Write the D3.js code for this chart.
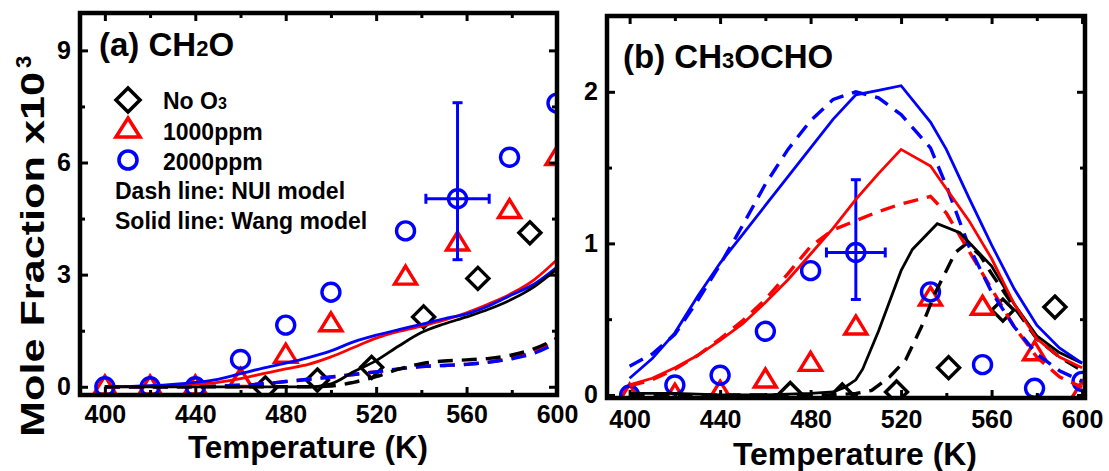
<!DOCTYPE html>
<html><head><meta charset="utf-8">
<script src="https://cdn.jsdelivr.net/npm/d3@7"></script>
<style>
body{margin:0;background:#fff;}
svg text{font-family:"Liberation Sans",Arial,Helvetica,sans-serif;font-weight:bold;fill:#000;}
</style></head><body><svg id="c" width="1109" height="471"></svg>
<script>
// ---------- Panel (a) CH2O : experiment ----------
const expT = [400,420,440,460,480,500,533,556,579,600];
const noO3T = [471,494,518,541,565,588];
const a_blue = [0,0,0,0.73,1.65,2.53,4.17,5.03,6.14,7.59];
const a_red  = [0,0,0,0.2,0.85,1.69,2.94,3.85,4.72,6.14];
const a_black = [-0.03,0.18,0.52,1.87,2.9,4.12];
const a_err = {T:556, v:5.03, lo:3.4, hi:7.6, tLo:542, tHi:570};
// ---------- Panel (a) models ----------
const a_modelT = [400,420,440,450,460,470,480,490,500,510,520,530,540,550,560,570,580,590,600];
const a_wangBlue  = [0,0.03,0.12,0.2,0.35,0.5,0.63,0.78,0.96,1.2,1.38,1.53,1.67,1.82,1.95,2.17,2.46,2.75,3.2];
const a_wangRed   = [0,0.02,0.07,0.12,0.22,0.35,0.48,0.6,0.8,1.05,1.3,1.48,1.62,1.78,1.98,2.22,2.5,2.87,3.4];
const a_wangBlack = [0,0,0,0,0,0,0,0,0.08,0.4,0.7,1.09,1.45,1.68,1.87,2.08,2.34,2.68,3.15];
const a_nuiBlue   = [0,0,0.01,0.02,0.04,0.08,0.14,0.2,0.26,0.33,0.4,0.48,0.54,0.57,0.6,0.66,0.75,0.9,1.18];
const a_nuiRed    = [0,0,0.01,0.02,0.04,0.08,0.14,0.2,0.26,0.33,0.4,0.48,0.54,0.57,0.6,0.66,0.77,0.95,1.3];
const a_nuiBlack  = [0,0,0,0,0,0,0,0,0.02,0.12,0.27,0.47,0.62,0.69,0.72,0.76,0.85,1.02,1.3];

// ---------- Panel (b) CH3OCHO : experiment ----------
const b_blue = [0,0.066,0.13,0.42,0.82,0.94,0.68,0.2,0.044,0.09];
const b_red  = [0,0,0.02,0.1,0.21,0.45,0.64,0.58,0.28,0.02];
const b_black = [0.01,0.0,0.02,0.18,0.56,0.58];
const b_err = {T:500, v:0.94, lo:0.63, hi:1.42, tLo:487, tHi:513};
// ---------- Panel (b) models ----------
const b_modelT = [400,410,420,430,440,450,460,470,480,490,500,510,520,533,540,550,560,570,580,590,600];
const b_wangBlue = [0.11,0.24,0.41,0.65,0.87,1.06,1.25,1.44,1.63,1.82,1.98,2.01,2.04,1.8,1.62,1.3,0.99,0.7,0.46,0.31,0.21];
const b_nuiBlue  = [0.19,0.27,0.4,0.62,0.86,1.12,1.39,1.62,1.81,1.95,2.0,1.96,1.85,1.63,1.38,0.98,0.68,0.45,0.27,0.16,0.09];
const b_wangRed  = [0.066,0.11,0.18,0.26,0.36,0.47,0.61,0.76,0.93,1.1,1.29,1.46,1.62,1.51,1.36,1.15,0.9,0.6,0.37,0.25,0.18];
const b_nuiRed   = [0.06,0.1,0.17,0.26,0.37,0.49,0.63,0.8,0.98,1.09,1.15,1.21,1.26,1.31,1.2,0.95,0.7,0.45,0.25,0.12,0.05];
const b_wangBlackT = [400,420,440,460,480,490,495,500,503,510,520,525,536,546,560,570,580,590,600];
const b_wangBlack  = [0.01,0.01,0.0,0.0,0.01,0.02,0.05,0.1,0.17,0.42,0.82,0.96,1.13,1.07,0.85,0.6,0.39,0.28,0.21];
const b_nuiBlackT = [400,490,500,507,515,522,529,535,544,549,555,560,570,580,590,600];
const b_nuiBlack  = [0,0,0.01,0.03,0.12,0.23,0.45,0.67,0.94,1.0,0.92,0.8,0.58,0.37,0.25,0.16];

// ---------- ticks ----------
const xMajor = [400,440,480,520,560,600];
const xMinor = [420,460,500,540,580];
const a_yMajor = [0,3,6,9], a_yMinor = [1.5,4.5,7.5];
const b_yMajor = [0,1,2], b_yMinor = [0.5,1.5];

const BLUE="#0000ff", RED="#ff0000", BLACK="#000000";
const svg = d3.select("#c");
svg.append("rect").attr("width",1109).attr("height",471).attr("fill","#fff");

function zip(T,V){return T.map((t,i)=>[t,V[i]]);}

function panel(cfg){
  const x = d3.scaleLinear().domain(cfg.xDomain).range(cfg.xRange);
  const y = d3.scaleLinear().domain(cfg.yDomain).range(cfg.yRange);
  const [x0,x1]=cfg.xRange, [y0,y1]=[cfg.yRange[1],cfg.yRange[0]];
  const g = svg.append("g");
  g.append("clipPath").attr("id","clip"+cfg.id).append("rect")
    .attr("x",x0).attr("y",y0).attr("width",x1-x0).attr("height",y1-y0);
  const plot = g.append("g").attr("clip-path",`url(#clip${cfg.id})`);

  const diamond = s=>`M0,${-s}L${s},0L0,${s}L${-s},0Z`;
  const tri = (w,h)=>`M0,${-h*0.6}L${w/2},${h*0.4}L${-w/2},${h*0.4}Z`;
  const sw=3.4;
  plot.selectAll(".d").data(zip(noO3T,cfg.black)).join("path")
    .attr("d",diamond(11)).attr("transform",d=>`translate(${x(d[0])},${y(d[1])})`)
    .attr("fill","none").attr("stroke",BLACK).attr("stroke-width",sw);
  plot.selectAll(".t").data(zip(expT,cfg.red)).join("path")
    .attr("d",tri(22,18)).attr("transform",d=>`translate(${x(d[0])},${y(d[1])})`)
    .attr("fill","none").attr("stroke",RED).attr("stroke-width",sw);
  const e=cfg.err, eg=plot.append("g").attr("stroke",BLUE).attr("stroke-width",3);
  eg.append("line").attr("x1",x(e.T)).attr("x2",x(e.T)).attr("y1",y(e.lo)).attr("y2",y(e.hi));
  eg.append("line").attr("x1",x(e.tLo)).attr("x2",x(e.tHi)).attr("y1",y(e.v)).attr("y2",y(e.v));
  [e.lo,e.hi].forEach(v=>eg.append("line").attr("x1",x(e.T)-5).attr("x2",x(e.T)+5).attr("y1",y(v)).attr("y2",y(v)));
  [e.tLo,e.tHi].forEach(t=>eg.append("line").attr("x1",x(t)).attr("x2",x(t)).attr("y1",y(e.v)-5).attr("y2",y(e.v)+5));
  plot.selectAll(".c").data(zip(expT,cfg.blue)).join("circle")
    .attr("cx",d=>x(d[0])).attr("cy",d=>y(d[1])).attr("r",9)
    .attr("fill","none").attr("stroke",BLUE).attr("stroke-width",sw);

  const line = d3.line().x(d=>x(d[0])).y(d=>y(d[1])).curve(cfg.curve);
  cfg.lines.forEach(L=>{
    plot.append("path").attr("d",line(zip(L.T,L.V))).attr("fill","none")
      .attr("stroke",L.c).attr("stroke-width",L.dash?3.4:2.8)
      .attr("stroke-dasharray",L.dash?"15,9":null);
  });

  const styl = sel=>{sel.select(".domain").remove();
    sel.selectAll(".tick line").attr("stroke","#000").attr("stroke-width",3);
    sel.selectAll("text").attr("font-size",25).attr("fill","#000")
      .style("font-family",'"Liberation Sans",Arial,sans-serif').style("font-weight","bold");};
  g.append("g").attr("transform",`translate(0,${y1})`)
    .call(d3.axisBottom(x).tickValues(xMajor).tickSize(-8).tickPadding(cfg.xPad).tickFormat(d3.format("d"))).call(styl);
  g.append("g").attr("transform",`translate(0,${y1})`)
    .call(d3.axisBottom(x).tickValues(xMinor).tickSize(-5).tickFormat("")).call(styl);
  g.append("g").attr("transform",`translate(0,${y0})`)
    .call(d3.axisTop(x).tickValues(xMajor).tickSize(-8).tickFormat("")).call(styl);
  g.append("g").attr("transform",`translate(0,${y0})`)
    .call(d3.axisTop(x).tickValues(xMinor).tickSize(-5).tickFormat("")).call(styl);
  g.append("g").attr("transform",`translate(${x0},0)`)
    .call(d3.axisLeft(y).tickValues(cfg.yMajor).tickSize(-8).tickPadding(9).tickFormat(d3.format("d"))).call(styl);
  g.append("g").attr("transform",`translate(${x0},0)`)
    .call(d3.axisLeft(y).tickValues(cfg.yMinor).tickSize(-5).tickFormat("")).call(styl);
  g.append("g").attr("transform",`translate(${x1},0)`)
    .call(d3.axisRight(y).tickValues(cfg.yMajor).tickSize(-8).tickFormat("")).call(styl);
  g.append("g").attr("transform",`translate(${x1},0)`)
    .call(d3.axisRight(y).tickValues(cfg.yMinor).tickSize(-5).tickFormat("")).call(styl);

  g.append("rect").attr("x",x0).attr("y",y0).attr("width",x1-x0).attr("height",y1-y0)
    .attr("fill","none").attr("stroke","#000").attr("stroke-width",4.5);

  const t = g.append("text").attr("x",cfg.title.x).attr("y",cfg.title.y).attr("font-size",33);
  cfg.title.parts.forEach(p=>t.append("tspan").text(p[0]).attr("font-size",p[1]?22:33));
  g.append("text").attr("x",cfg.xTitle.x).attr("y",cfg.xTitle.y).attr("text-anchor","middle")
    .attr("font-size",31).attr("textLength",cfg.xTitle.len).attr("lengthAdjust","spacingAndGlyphs")
    .text("Temperature (K)");
  return {x,y,g};
}

panel({id:"a", xDomain:[389,600], xRange:[80,557], yDomain:[-0.22,10], yRange:[395,13],
  blue:a_blue, red:a_red, black:a_black, err:a_err, curve:d3.curveMonotoneX, xPad:10,
  yMajor:a_yMajor, yMinor:a_yMinor,
  lines:[
    {T:a_modelT,V:a_nuiRed,c:RED,dash:true},{T:a_modelT,V:a_nuiBlue,c:BLUE,dash:true},{T:a_modelT,V:a_nuiBlack,c:BLACK,dash:true},
    {T:a_modelT,V:a_wangRed,c:RED},{T:a_modelT,V:a_wangBlue,c:BLUE},{T:a_modelT,V:a_wangBlack,c:BLACK}],
  title:{x:99,y:56,parts:[["(a) CH"],["2",1],["O"]]}, xTitle:{x:308,y:458,len:240}});

panel({id:"b", xDomain:[390,601.3], xRange:[607,1085], yDomain:[-0.02,2.5], yRange:[398,16],
  blue:b_blue, red:b_red, black:b_black, err:b_err, curve:d3.curveLinear, xPad:12,
  yMajor:b_yMajor, yMinor:b_yMinor,
  lines:[
    {T:b_nuiBlackT,V:b_nuiBlack,c:BLACK,dash:true},{T:b_modelT,V:b_nuiRed,c:RED,dash:true},{T:b_modelT,V:b_nuiBlue,c:BLUE,dash:true},
    {T:b_wangBlackT,V:b_wangBlack,c:BLACK},{T:b_modelT,V:b_wangRed,c:RED},{T:b_modelT,V:b_wangBlue,c:BLUE}],
  title:{x:623,y:68,parts:[["(b) CH"],["3",1],["OCHO"]]}, xTitle:{x:855,y:465,len:244}});

// y axis title (panel a)
svg.append("text").attr("transform","translate(44,437) rotate(-90)").attr("font-size",33)
  .attr("textLength",365).attr("lengthAdjust","spacingAndGlyphs").text("Mole Fraction x10");
svg.append("text").attr("transform","translate(31,68) rotate(-90)").attr("font-size",22).text("3");

// legend (panel a)
const lg = svg.append("g");
const legItems = [
  {sym:"diamond", c:BLACK, y:100, label:[["No O"],["3",1]], ty:109},
  {sym:"tri", c:RED, y:129, label:[["1000ppm"]], ty:140},
  {sym:"circle", c:BLUE, y:160, label:[["2000ppm"]], ty:170}];
legItems.forEach(it=>{
  let m;
  if(it.sym==="circle") m = lg.append("circle").attr("cx",128).attr("cy",it.y).attr("r",9);
  else m = lg.append("path").attr("transform",`translate(128,${it.y})`)
     .attr("d", it.sym==="diamond" ? "M0,-12L12,0L0,12L-12,0Z" : "M0,-11L12,8L-12,8Z");
  m.attr("fill","none").attr("stroke",it.c).attr("stroke-width",3.6);
  const t = lg.append("text").attr("x",163).attr("y",it.ty).attr("font-size",23);
  it.label.forEach(p=>t.append("tspan").text(p[0]).attr("font-size",p[1]?16:23));
});
lg.append("text").attr("x",115).attr("y",199).attr("font-size",23).text("Dash line: NUI model");
lg.append("text").attr("x",115).attr("y",229).attr("font-size",23).text("Solid line: Wang model");
</script></body></html>
